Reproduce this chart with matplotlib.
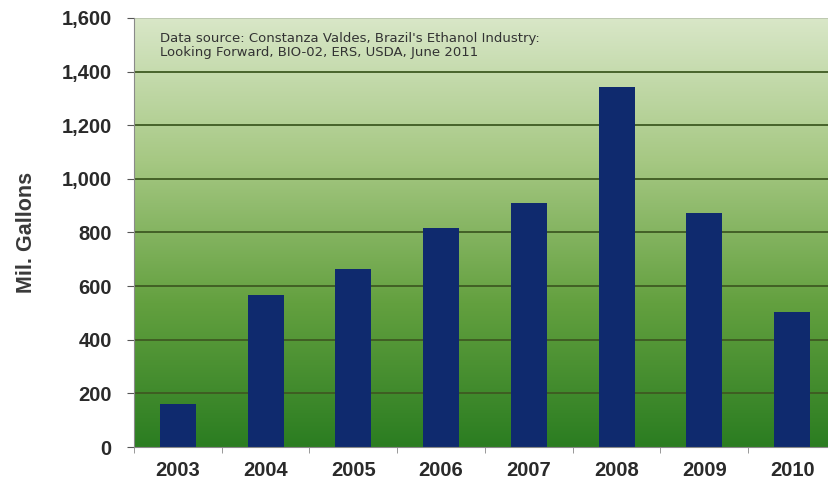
import numpy as np
import matplotlib.pyplot as plt
from matplotlib.colors import LinearSegmentedColormap
from matplotlib.ticker import FuncFormatter

# Brazil ethanol exports, million gallons
years = ["2003", "2004", "2005", "2006", "2007", "2008", "2009", "2010"]
exports = [160, 567, 664, 817, 910, 1343, 873, 504]

yticks = [0, 200, 400, 600, 800, 1000, 1200, 1400, 1600]
source_note = ("Data source: Constanza Valdes, Brazil's Ethanol Industry:\n"
               "Looking Forward, BIO-02, ERS, USDA, June 2011")

plt.rcParams['font.family'] = ['Liberation Sans', 'DejaVu Sans']

fig = plt.figure(figsize=(8.29, 4.86), dpi=100)
ax = fig.add_axes([134 / 829, 39 / 486, 702 / 829, 429 / 486])

x = np.arange(len(years))
ax.set_xlim(-0.5, len(years) - 0.5)
ax.set_ylim(0, 1600)

# green gradient background, light at the top
green = LinearSegmentedColormap.from_list(
    "bg", ["#2b7d21", "#63a03f", "#a6c883", "#d9e7c8"])
grad = np.linspace(0, 1, 256).reshape(-1, 1)
ax.imshow(grad, cmap=green, aspect="auto", origin="lower",
          extent=(-0.5, len(years) - 0.5, 0, 1600), zorder=0)

for t in yticks[1:-1]:
    ax.axhline(t, color="#3e5a22", lw=1.3, zorder=1)
ax.axhline(1600, color="#b9c4ad", lw=1.2, zorder=1)

ax.bar(x, exports, width=0.41, color="#0f2a6e", zorder=2)

ax.set_yticks(yticks)
ax.yaxis.set_major_formatter(FuncFormatter(lambda v, p: f"{int(v):,}"))
ax.set_xticks(x)
ax.set_xticklabels(years)
ax.set_xticks(np.arange(-0.5, len(years), 1), minor=True)
ax.tick_params(axis="x", which="major", length=0, pad=10)
ax.tick_params(axis="x", which="minor", length=4, color="#888888")
ax.tick_params(axis="y", length=5, color="#555555", pad=11)
for lab in ax.get_xticklabels() + ax.get_yticklabels():
    lab.set_fontsize(14.5)
    lab.set_fontweight("bold")
    lab.set_color("#2a2a2a")

ax.set_ylabel("Mil. Gallons", fontsize=15.5, fontweight="bold",
              color="#3a3a3a")
ax.yaxis.set_label_coords(-0.138, 0.5)

for side in ["top", "right"]:
    ax.spines[side].set_visible(False)
ax.spines["left"].set_color("#8a8a8a")
ax.spines["bottom"].set_color("#8a8a8a")

ax.text(0.037, 0.968, source_note, transform=ax.transAxes, fontsize=9.5,
        family="DejaVu Sans", color="#333333", va="top", ha="left",
        linespacing=1.1)

fig.savefig("out.png", dpi=100)
